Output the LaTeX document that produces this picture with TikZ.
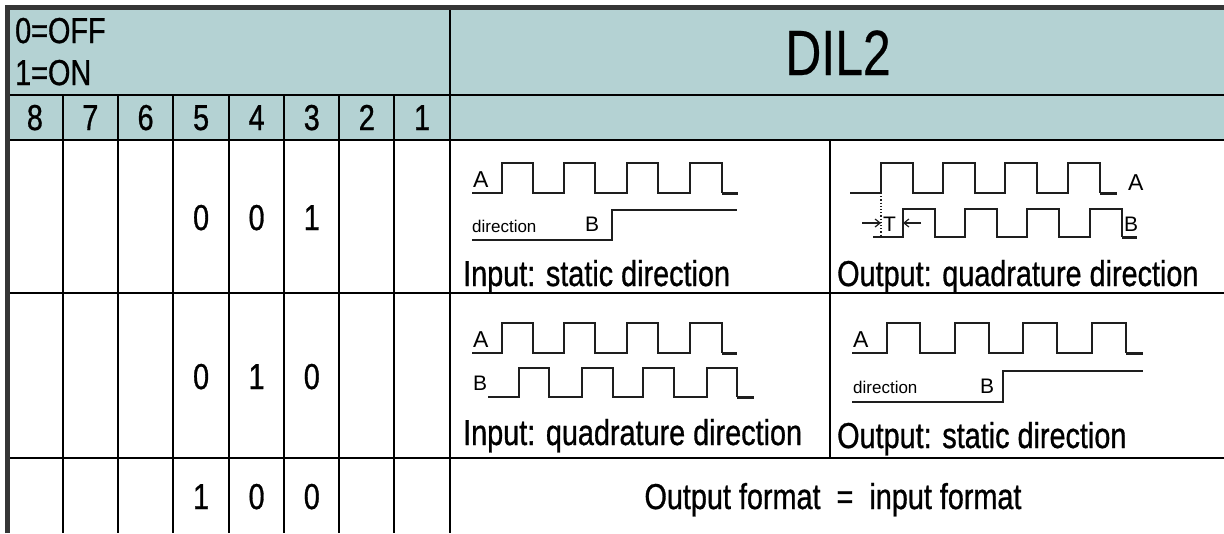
\documentclass[tikz,border=0pt]{standalone}
\usepackage{fontspec}
\usetikzlibrary{arrows.meta}
\setmainfont{Liberation Sans}[FakeStretch=0.8,FakeBold=0.8]
\newfontfamily\titlefont{Liberation Sans}[FakeStretch=0.78,FakeBold=0.4]
\newfontfamily\wavefont{Liberation Sans}
\definecolor{hdrteal}{HTML}{B4D2D3}
\definecolor{frame}{HTML}{363636}
\definecolor{ink}{HTML}{1E1E1E}
\begin{document}
\begin{tikzpicture}[x=1pt,y=-1pt,
  grid/.style={draw=black,line width=2pt},
  outer/.style={draw=frame,line width=5pt},
  wave/.style={draw=ink,line width=2pt,line join=miter},
  waveend/.style={draw=ink,line width=3pt},
  big/.style={inner sep=0pt,font=\fontsize{36}{40}\selectfont},
  title/.style={inner sep=0pt,font=\titlefont\fontsize{64}{70}\selectfont},
  lab/.style={inner sep=0pt,font=\wavefont\fontsize{23}{26}\selectfont},
  labb/.style={inner sep=0pt,font=\wavefont\fontsize{21}{24}\selectfont},
  small/.style={inner sep=0pt,font=\wavefont\fontsize{17}{20}\selectfont},
  tarrow/.style={draw=ink,line width=1.2pt,-{Straight Barb[length=5pt,width=8pt]}}
]
\useasboundingbox (0,0) rectangle (1224,533);
\fill[white] (0,0) rectangle (1224,533);
% teal header
\fill[hdrteal] (7,7) rectangle (1224,140);
% grid lines
\draw[grid] (7,95) -- (1224,95);
\draw[grid] (7,140) -- (1224,140);
\draw[grid] (7,293) -- (1224,293);
\draw[grid] (7,458) -- (1224,458);
\draw[grid] (450,9) -- (450,533);
\foreach \xx in {62.7,118,173.3,229,284.3,339.3,394.3} {
  \draw[grid] (\xx,95) -- (\xx,533);
}
\draw[grid] (830,140) -- (830,458);
% outer frame
\draw[outer] (7,533) -- (7,7) -- (1224,7);

% header texts
\node[big,anchor=base west] (off) at (15,43) {0=OFF};
\node[big,anchor=base west] (on) at (15,85) {1=ON};
\node[title,anchor=base] (dil) at (838,75) {DIL2};
\foreach \nn/\xx in {8/34.9,7/90.3,6/145.6,5/201.1,4/256.6,3/311.8,2/366.8,1/422.1} {
  \node[big,anchor=base] (h\nn) at (\xx,130) {\nn};
}
% row values
\node[big,anchor=base] (r1c5) at (201.1,230) {0};
\node[big,anchor=base] (r1c4) at (256.6,230) {0};
\node[big,anchor=base] (r1c3) at (311.8,230) {1};
\node[big,anchor=base] (r2c5) at (201.1,389) {0};
\node[big,anchor=base] (r2c4) at (256.6,389) {1};
\node[big,anchor=base] (r2c3) at (311.8,389) {0};
\node[big,anchor=base] (r3c5) at (201.1,509) {1};
\node[big,anchor=base] (r3c4) at (256.6,509) {0};
\node[big,anchor=base] (r3c3) at (311.8,509) {0};

% captions
\node[big,anchor=base west] (in1) at (463,286) {Input: static direction};
\node[big,anchor=base west] (out1) at (837,286) {Output: quadrature direction};
\node[big,anchor=base west] (in2) at (463,445) {Input: quadrature direction};
\node[big,anchor=base west] (out2) at (837,448) {Output: static direction};
\node[big,anchor=base] (same) at (833,509) {Output format \ = \ input format};

% ---- Row 1 left: input static direction
\draw[wave] (472,193) -- (502,193) -- (502,163) -- (533,163) -- (533,193)
  -- (564,193) -- (564,163) -- (595,163) -- (595,193)
  -- (627,193) -- (627,163) -- (658,163) -- (658,193)
  -- (690,193) -- (690,163) -- (722,163) -- (722,193);
\draw[waveend] (722,193) -- (738,193);
\draw[wave] (472,240) -- (612,240) -- (612,210) -- (737,210);
\node[lab,anchor=base west] (a1) at (473,187) {A};
\node[small,anchor=base west] (d1) at (472,232) {direction};
\node[labb,anchor=base west] (b1) at (585,231) {B};

% ---- Row 1 right: output quadrature direction
\draw[wave] (850,193) -- (881,193) -- (881,163) -- (913,163) -- (913,193)
  -- (943,193) -- (943,163) -- (975,163) -- (975,193)
  -- (1005,193) -- (1005,163) -- (1037,163) -- (1037,193)
  -- (1068,193) -- (1068,163) -- (1100,163) -- (1100,193);
\draw[waveend] (1100,193) -- (1117,193);
\draw[wave] (873,237) -- (903,237) -- (903,209) -- (935,209) -- (935,237)
  -- (965,237) -- (965,209) -- (997,209) -- (997,237)
  -- (1027,237) -- (1027,209) -- (1059,209) -- (1059,237)
  -- (1090,237) -- (1090,209) -- (1122,209) -- (1122,237);
\draw[waveend] (1122,237) -- (1137,237);
\draw[draw=ink,line width=1.2pt,dotted] (881,193) -- (881,237);
\node[lab,anchor=base west] (a2) at (1128,190) {A};
\node[labb,anchor=base west] (b2) at (1124,231) {B};
\node[labb,anchor=base west] (t2) at (883,231) {T};
\coordinate (tl) at (862,223);
\coordinate (tlm) at (881,223);
\coordinate (tr) at (921,223);
\coordinate (trm) at (903,223);
\draw[tarrow] (tl) -- (tlm);
\draw[tarrow] (tr) -- (trm);

% ---- Row 2 left: input quadrature direction
\draw[wave] (472,353) -- (502,353) -- (502,323) -- (533,323) -- (533,353)
  -- (564,353) -- (564,323) -- (595,323) -- (595,353)
  -- (627,353) -- (627,323) -- (658,323) -- (658,353)
  -- (690,353) -- (690,323) -- (722,323) -- (722,353);
\draw[waveend] (722,353) -- (737,353);
\draw[wave] (488,397) -- (519,397) -- (519,368) -- (549,368) -- (549,397)
  -- (582,397) -- (582,368) -- (613,368) -- (613,397)
  -- (643,397) -- (643,368) -- (674,368) -- (674,397)
  -- (707,397) -- (707,368) -- (737,368) -- (737,397);
\draw[waveend] (737,397) -- (754,397);
\node[lab,anchor=base west] (a3) at (473,347) {A};
\node[labb,anchor=base west] (b3) at (473,390) {B};

% ---- Row 2 right: output static direction
\draw[wave] (852,353) -- (887,353) -- (887,323) -- (920,323) -- (920,353)
  -- (955,353) -- (955,323) -- (989,323) -- (989,353)
  -- (1023,353) -- (1023,323) -- (1057,323) -- (1057,353)
  -- (1092,353) -- (1092,323) -- (1126,323) -- (1126,353);
\draw[waveend] (1126,353) -- (1143,353);
\draw[wave] (852,402) -- (1003,402) -- (1003,371) -- (1143,371);
\node[lab,anchor=base west] (a4) at (853,347) {A};
\node[small,anchor=base west] (d4) at (853,393) {direction};
\node[labb,anchor=base west] (b4) at (980,393) {B};
\end{tikzpicture}
\end{document}
